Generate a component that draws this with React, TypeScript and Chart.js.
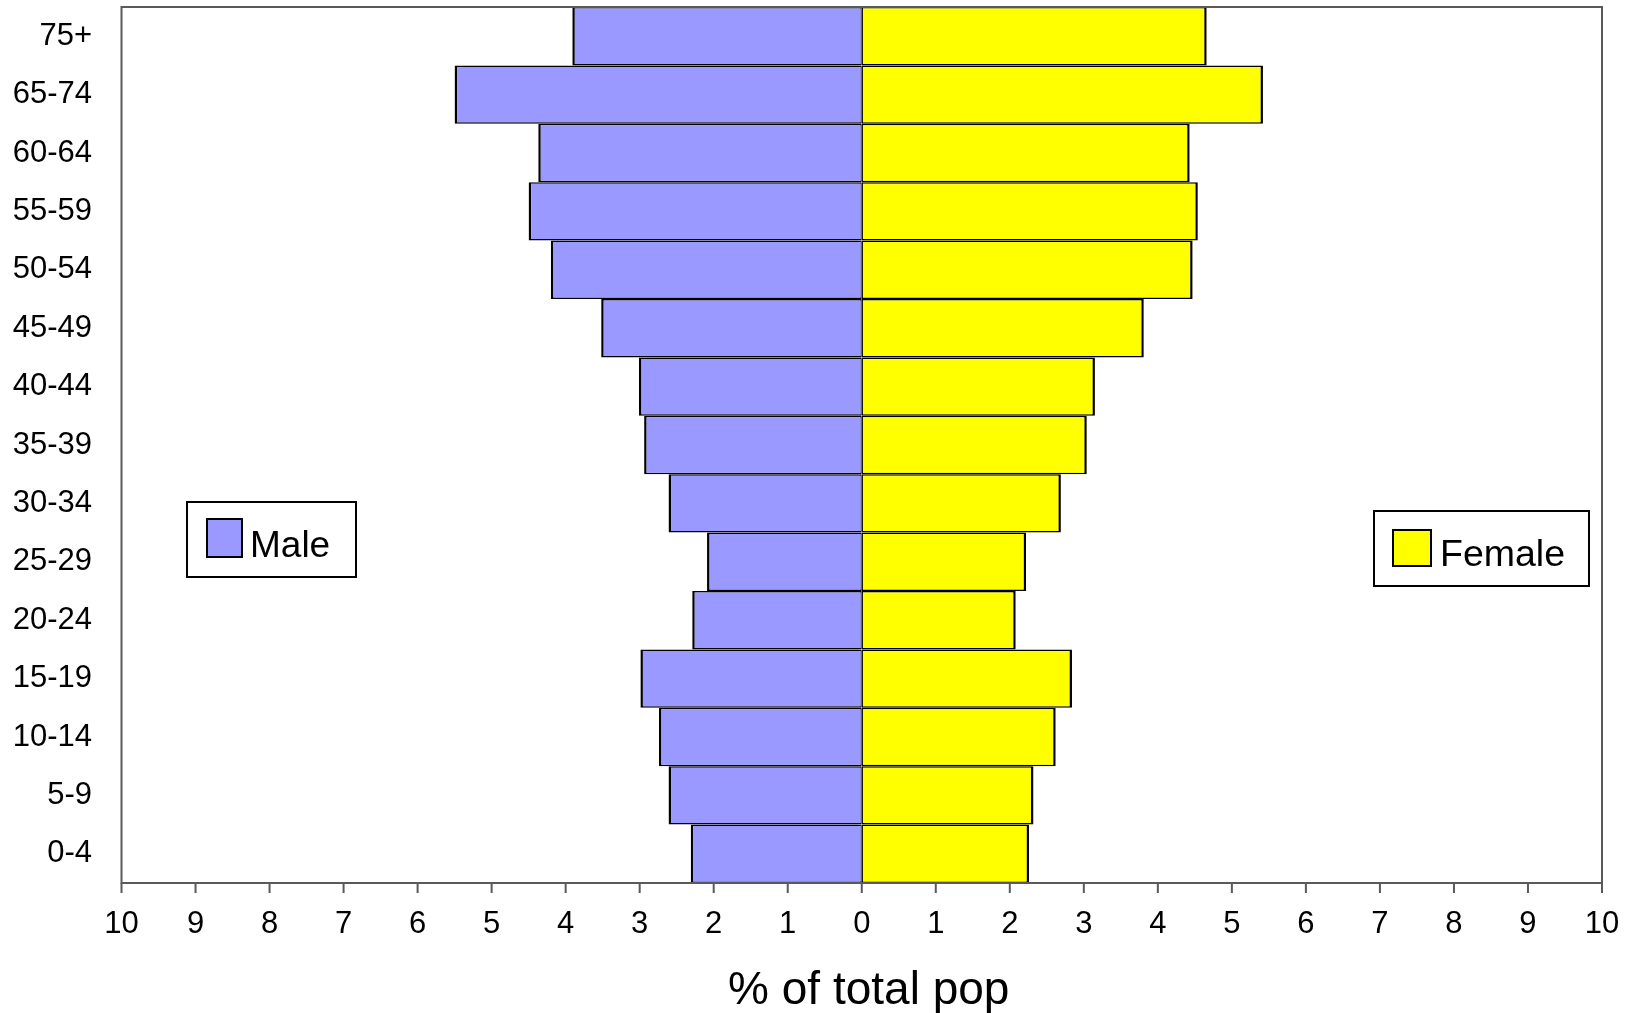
import { useEffect, useRef } from 'react';
import { Chart, registerables } from 'chart.js';

Chart.register(...registerables);

// Age groups, bottom to top
const ageGroups = ['0-4', '5-9', '10-14', '15-19', '20-24', '25-29', '30-34', '35-39', '40-44', '45-49', '50-54', '55-59', '60-64', '65-74', '75+'];
// % of total population
const malePct = [2.31, 2.61, 2.74, 2.99, 2.29, 2.09, 2.61, 2.94, 3.01, 3.52, 4.20, 4.50, 4.37, 5.50, 3.91];
const femalePct = [2.26, 2.32, 2.62, 2.84, 2.08, 2.22, 2.69, 3.04, 3.15, 3.81, 4.47, 4.54, 4.43, 5.42, 4.66];
const seriesNames = ['Male', 'Female'];
const seriesColors = ['#9999FF', '#FFFF00'];
const axisTitle = '% of total pop';
const xMin = -10;
const xMax = 10;

const FONT = '"Liberation Sans", Arial, sans-serif';

const framePlugin = {
  id: 'frame',
  afterDatasetsDraw(chart: any) {
    const { ctx, chartArea } = chart;
    const xs = chart.scales.x;
    ctx.save();
    ctx.strokeStyle = '#5a5a5a';
    ctx.lineWidth = 2;
    ctx.strokeRect(chartArea.left, chartArea.top, chartArea.right - chartArea.left, chartArea.bottom - chartArea.top);
    // outward tick marks on the x axis
    ctx.beginPath();
    for (const t of xs.ticks) {
      const px = xs.getPixelForValue(t.value);
      ctx.moveTo(px, chartArea.bottom);
      ctx.lineTo(px, chartArea.bottom + 10);
    }
    ctx.stroke();
    ctx.restore();
  },
};

const titlePlugin = {
  id: 'xTitle',
  afterDraw(chart: any) {
    const { ctx, chartArea } = chart;
    ctx.save();
    ctx.fillStyle = '#000000';
    ctx.font = `46px ${FONT}`;
    ctx.textAlign = 'center';
    ctx.textBaseline = 'alphabetic';
    ctx.fillText(axisTitle, (chartArea.left + chartArea.right) / 2 + 7, chartArea.bottom + 121);
    ctx.restore();
  },
};

const legendPlugin = {
  id: 'boxLegends',
  afterDraw(chart: any) {
    const ctx = chart.ctx;
    const items = [
      { x: 187, y: 502, w: 169, h: 75, sx: 207, sy: 519, sw: 35, sh: 38, tx: 250, ty: 557, fs: 37, i: 0 },
      { x: 1374, y: 511, w: 215, h: 75, sx: 1393, sy: 530, sw: 38, sh: 36, tx: 1440, ty: 566, fs: 37.5, i: 1 },
    ];
    ctx.save();
    for (const it of items) {
      ctx.fillStyle = '#ffffff';
      ctx.fillRect(it.x, it.y, it.w, it.h);
      ctx.strokeStyle = '#000000';
      ctx.lineWidth = 2;
      ctx.strokeRect(it.x, it.y, it.w, it.h);
      ctx.fillStyle = seriesColors[it.i];
      ctx.fillRect(it.sx, it.sy, it.sw, it.sh);
      ctx.strokeRect(it.sx, it.sy, it.sw, it.sh);
      ctx.fillStyle = '#000000';
      ctx.font = `${it.fs}px ${FONT}`;
      ctx.textAlign = 'left';
      ctx.textBaseline = 'alphabetic';
      ctx.fillText(seriesNames[it.i], it.tx, it.ty);
    }
    ctx.restore();
  },
};

export default function App() {
  const canvasRef = useRef<HTMLCanvasElement | null>(null);

  useEffect(() => {
    document.body.style.margin = '0';
    document.body.style.overflow = 'hidden';
    const canvas = canvasRef.current;
    if (!canvas) return;
    const chart = new Chart(canvas, {
      type: 'bar',
      data: {
        labels: ageGroups,
        datasets: [
          {
            label: seriesNames[0],
            data: malePct.map((v) => -v),
            backgroundColor: seriesColors[0],
            borderColor: '#000000',
            borderWidth: { top: 1.5, bottom: 1.5, left: 2.5, right: 1.2 } as any,
            borderSkipped: false,
            inflateAmount: 0,
            barPercentage: 1,
            categoryPercentage: 1,
          } as any,
          {
            label: seriesNames[1],
            data: femalePct,
            backgroundColor: seriesColors[1],
            borderColor: '#000000',
            borderWidth: { top: 1.5, bottom: 1.5, left: 1.2, right: 2.5 } as any,
            borderSkipped: false,
            inflateAmount: 0,
            barPercentage: 1,
            categoryPercentage: 1,
          } as any,
        ],
      },
      options: {
        indexAxis: 'y',
        responsive: false,
        animation: false,
        layout: { padding: { left: 0, top: 7, right: 40, bottom: 0 } },
        plugins: {
          legend: { display: false },
          tooltip: { enabled: false },
        },
        scales: {
          x: {
            type: 'linear',
            stacked: true,
            min: xMin,
            max: xMax,
            ticks: {
              stepSize: 1,
              padding: 13,
              color: '#000000',
              font: { family: FONT, size: 31 },
              maxRotation: 0,
              autoSkip: false,
              callback: (v: any) => String(Math.abs(Number(v))),
            },
            grid: {
              display: false,
              drawOnChartArea: false,
              drawTicks: true,
              tickLength: 10,
            },
            border: { display: false },
            title: { display: false, text: axisTitle },
            afterFit: (scale: any) => {
              scale.height = 130;
            },
          },
          y: {
            type: 'category',
            stacked: true,
            reverse: true,
            ticks: {
              padding: 0,
              color: '#000000',
              font: { family: FONT, size: 31, lineHeight: 0.4 },
              autoSkip: false,
            },
            grid: { display: false, drawTicks: true, tickLength: 29.5 },
            border: { display: false },
            afterFit: (scale: any) => {
              scale.width = 121.5;
            },
          },
        },
      },
      plugins: [framePlugin, titlePlugin, legendPlugin],
    });
    return () => chart.destroy();
  }, []);

  return (
    <div style={{ width: 1642, height: 1013 }}>
      <canvas ref={canvasRef} width={1642} height={1013} style={{ display: 'block' }} />
    </div>
  );
}
